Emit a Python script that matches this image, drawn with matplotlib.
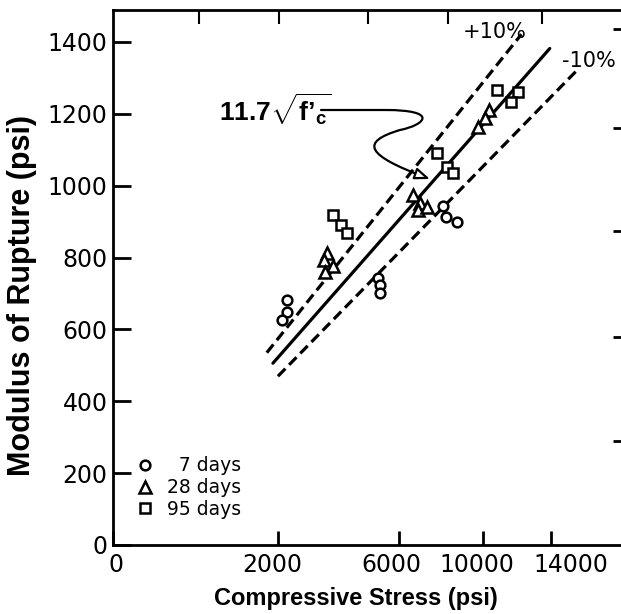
import numpy as np
import matplotlib.pyplot as plt
import matplotlib.transforms as mtransforms
from matplotlib.path import Path
from matplotlib.patches import FancyArrowPatch

plt.rcParams['mathtext.fontset'] = 'custom'
plt.rcParams['mathtext.rm'] = 'Liberation Sans:bold'
plt.rcParams['mathtext.bf'] = 'Liberation Sans:bold'
plt.rcParams['mathtext.it'] = 'Liberation Sans:bold'

# Data (psi)
fc_7 = [2210, 2210, 2090, 5130, 5210, 5210, 7950, 8100, 8640]
mor_7 = [682, 648, 626, 743, 724, 701, 943, 913, 898]

fc_28 = [3345, 3250, 3535, 3280, 6570, 6880, 6800, 7200, 10330, 10110, 9730]
mor_28 = [813, 793, 776, 760, 974, 952, 931, 941, 1211, 1188, 1163]

fc_95 = [3535, 3800, 4000, 7670, 8150, 8440, 10770, 11980, 11570]
mor_95 = [918, 891, 868, 1091, 1052, 1035, 1266, 1261, 1233]

coef = 11.7
fit_fc = [1870, 13950]
upper_fc = [1730, 12200]
lower_fc = [1990, 15800]

xticks = [0, 2000, 6000, 10000, 14000]
yticks = [0, 200, 400, 600, 800, 1000, 1200, 1400]
top_ticks = [3200, 6200, 9500, 12500, 16000]
right_ticks = [290, 580, 875, 1160, 1435]

fig = plt.figure(figsize=(6.21, 6.14), dpi=100)
W, H = 621, 614
left, right, top, bottom = 113, 623, 10, 545
ax = fig.add_axes([left / W, (H - bottom) / H, (right - left) / W, (bottom - top) / H])


def px(x, y):
    # pixel position -> axes fraction (for annotation placement)
    return ((x - left) / (right - left), (bottom - y) / (bottom - top))


fwd = lambda x: np.sqrt(np.maximum(x, 0))
inv = lambda x: np.square(x)
ax.set_xscale('function', functions=(fwd, inv))
ax.set_xlim(0, 19020)
ax.set_ylim(0, 1489)

fit = lambda f, k: [k * coef * np.sqrt(v) for v in f]
ax.plot(fit_fc, fit(fit_fc, 1.0), color='black', lw=2.3, solid_capstyle='round')
ax.plot(upper_fc, fit(upper_fc, 1.1), color='black', lw=2.3, dashes=(3.3, 1.7))
ax.plot(lower_fc, fit(lower_fc, 0.9), color='black', lw=2.3, dashes=(3.3, 1.7))

mk = dict(linestyle='none', mfc='white', mec='black', mew=1.8)
h7, = ax.plot(fc_7, mor_7, marker='o', ms=7, label='\u20077 days', **mk)
h28, = ax.plot(fc_28, mor_28, marker='^', ms=8, label='28 days', **mk)
h95, = ax.plot(fc_95, mor_95, marker='s', ms=6.5, label='95 days', **mk)

leg = ax.legend(handles=[h7, h28, h95], loc='lower left', bbox_to_anchor=px(137, 519),
                frameon=False, fontsize=13.5, handlelength=0.8, handletextpad=0.8,
                labelspacing=0.15, borderpad=0, borderaxespad=0)

ax.set_xticks(xticks)
ax.set_xticklabels([str(v) for v in xticks])
ax.set_yticks(yticks)
ax.set_yticklabels([str(v) for v in yticks])
ax.tick_params(axis='both', direction='in', labelsize=17, width=2, color='black')
ax.tick_params(axis='y', length=13, pad=4)
ax.tick_params(axis='x', length=10, pad=6)
ax.minorticks_off()

# the printed x labels sit a little off their ticks in the original
label_shift = [3, -6, -8, -6, 20]
for lab, dx in zip(ax.get_xticklabels(), label_shift):
    lab.set_transform(lab.get_transform() + mtransforms.ScaledTranslation(dx / 100, 0, fig.dpi_scale_trans))

for s in ['left', 'bottom', 'top']:
    ax.spines[s].set_linewidth(2)
ax.spines['right'].set_visible(False)

sec_x = ax.secondary_xaxis('top', functions=(lambda x: x, lambda x: x))
sec_x.set_xticks(top_ticks)
sec_x.tick_params(direction='in', length=10, width=1.5, labeltop=False)
sec_x.spines['top'].set_visible(False)
sec_x.minorticks_off()

sec_y = ax.secondary_yaxis('right')
sec_y.set_yticks(right_ticks)
sec_y.tick_params(direction='in', length=7, width=2, labelright=False)
sec_y.spines['right'].set_visible(False)

ax.text(*px(495, 32), '+10%', transform=ax.transAxes, ha='center', va='center', fontsize=15)
ax.text(*px(589, 61), '-10%', transform=ax.transAxes, ha='center', va='center', fontsize=15)

label_fit = '$\\mathbf{11.7}\\sqrt{\\mathbf{f\u2019}_{\\mathbf{c}}}$'
ax.text(*px(219, 122), label_fit, transform=ax.transAxes, ha='left', va='baseline', fontsize=19)

verts = [px(321, 110), px(385, 110),
         px(440, 110), px(425, 125), px(400, 130),
         px(360, 142), px(365, 155), px(430, 179)]
codes = [Path.MOVETO, Path.LINETO,
         Path.CURVE4, Path.CURVE4, Path.CURVE4,
         Path.CURVE4, Path.CURVE4, Path.CURVE4]
arrow = FancyArrowPatch(path=Path(verts, codes), transform=ax.transAxes,
                        arrowstyle='-|>,head_length=9,head_width=3.5',
                        color='black', lw=1.6, fc='white')
ax.add_patch(arrow)

fig.text(356 / W, 1 - 598 / H, 'Compressive Stress (psi)', ha='center', va='center',
         fontsize=17, fontweight='bold', family='Liberation Sans')
fig.text(22 / W, 1 - 295 / H, 'Modulus of Rupture (psi)', ha='center', va='center',
         rotation=90, fontsize=22, fontweight='bold', family='Liberation Sans')

fig.savefig('out.png', dpi=100)
